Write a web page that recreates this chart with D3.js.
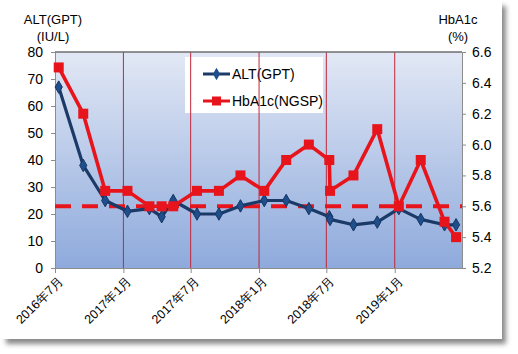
<!DOCTYPE html>
<html>
<head>
<meta charset="utf-8">
<script src="https://cdn.jsdelivr.net/npm/d3@7"></script>
<style>
  body { margin: 0; background: #ffffff; }
  svg { display: block; font-family: "Liberation Sans", Arial, "Noto Sans CJK JP", sans-serif; }
</style>
</head>
<body>
<svg id="drawing_region"></svg>
<script>
// measurement dates
const dates = ['2016-07-11','2016-09-15','2016-11-13','2017-01-12','2017-03-12','2017-04-14','2017-05-15',
    '2017-07-18','2017-09-15','2017-11-12','2018-01-15','2018-03-15','2018-05-15','2018-07-09','2018-07-11',
    '2018-09-12','2018-11-15','2019-01-12','2019-03-12','2019-05-15','2019-06-15'];
const alt = [67,38,25,21,22,19,25,20,20,23,25,25,22,19,18,16,17,22,18,16,16];
const hba1c = [6.5,6.2,5.7,5.7,5.6,5.6,5.6,5.7,5.7,5.8,5.7,5.9,6.0,5.9,5.7,5.8,6.1,5.6,5.9,5.5,5.4];
const hba1cTarget = 5.6;
const xTicks = ['2016-07-01','2017-01-01','2017-07-01','2018-01-01','2018-07-01','2019-01-01'];
const leftTicks = [0,10,20,30,40,50,60,70,80];
const rightTicks = [5.2,5.4,5.6,5.8,6.0,6.2,6.4,6.6];

const parse = d3.timeParse('%Y-%m-%d');
const data = dates.map((d, i) => ({date: parse(d), alt: alt[i], hba1c: hba1c[i]}));

const width = 518, height = 354;
const margin = {top: 52, right: 56, bottom: 86, left: 55};
const inner_width = width - margin.left - margin.right;
const inner_height = height - margin.top - margin.bottom;

const svg = d3.select('#drawing_region')
    .attr('width', width)
    .attr('height', height);

// panel + drop shadow
const defs = svg.append('defs');
defs.append('filter').attr('id', 'shadow')
    .attr('x', '-5%').attr('y', '-5%').attr('width', '115%').attr('height', '115%')
    .append('feGaussianBlur').attr('stdDeviation', 2.5);
const grad = defs.append('linearGradient').attr('id', 'plotbg')
    .attr('x1', 0).attr('y1', 0).attr('x2', 0).attr('y2', 1);
grad.append('stop').attr('offset', '0%').attr('stop-color', '#e2e8f5');
grad.append('stop').attr('offset', '100%').attr('stop-color', '#8eaadc');

svg.append('rect').attr('x', 6).attr('y', 6).attr('width', 500).attr('height', 338)
    .attr('fill', '#8a8a8a').attr('filter', 'url(#shadow)');
svg.append('rect').attr('x', 0).attr('y', 0).attr('width', 502).attr('height', 339)
    .attr('fill', '#ffffff');

const chart = svg.append('g')
    .attr('transform', `translate(${margin.left}, ${margin.top})`);

const xscale = d3.scaleTime()
    .domain([parse('2016-07-01'), parse('2019-07-01')])
    .range([0, inner_width]);
const yleft = d3.scaleLinear().domain([0, 80]).range([inner_height, 0]);
const yright = d3.scaleLinear().domain([5.2, 6.6]).range([inner_height, 0]);

chart.append('rect')
    .attr('width', inner_width).attr('height', inner_height)
    .attr('fill', 'url(#plotbg)');

// legend box (grid lines run over it)
const legend = chart.append('g').attr('transform', 'translate(130, 5)');
legend.append('rect').attr('width', 138).attr('height', 56).attr('fill', '#ffffff');

// vertical grid lines
chart.append('g').selectAll('line')
    .data(xTicks.slice(1).map(parse))
    .join('line')
    .attr('x1', d => xscale(d)).attr('x2', d => xscale(d))
    .attr('y1', 0).attr('y2', inner_height)
    .attr('stroke', '#c0283a').attr('stroke-width', 1);

// axes
const xaxis = d3.axisBottom(xscale)
    .tickValues(xTicks.map(parse))
    .tickFormat(d3.timeFormat('%Y年%-m月'))
    .tickSize(5).tickSizeOuter(0);
const xg = chart.append('g')
    .attr('transform', `translate(0, ${inner_height})`)
    .call(xaxis);
xg.selectAll('text')
    .attr('font-size', 12.5).attr('fill', '#000')
    .attr('text-anchor', 'end')
    .attr('dy', 0)
    .attr('transform', 'translate(3, 8) rotate(-45)');

const yaxisL = d3.axisLeft(yleft).tickValues(leftTicks).tickSize(4).tickSizeOuter(0).tickPadding(8);
const ylg = chart.append('g').call(yaxisL);
ylg.selectAll('text').attr('font-size', 14).attr('fill', '#000');

const yaxisR = d3.axisRight(yright).tickValues(rightTicks).tickFormat(d3.format('.1f'))
    .tickSize(4).tickSizeOuter(0).tickPadding(6);
const yrg = chart.append('g').attr('transform', `translate(${inner_width}, 0)`).call(yaxisR);
yrg.selectAll('text').attr('font-size', 14).attr('fill', '#000');

[xg, ylg, yrg].forEach(g => {
    g.selectAll('.domain').attr('stroke', '#8c8c8c');
    g.selectAll('.tick line').attr('stroke', '#8c8c8c');
});
chart.append('line').attr('x1', 0).attr('x2', inner_width).attr('y1', 0).attr('y2', 0)
    .attr('stroke', '#6e6e6e').attr('stroke-width', 1.5);

// HbA1c target dashed line
chart.append('line')
    .attr('x1', 0).attr('x2', inner_width)
    .attr('y1', yright(hba1cTarget)).attr('y2', yright(hba1cTarget))
    .attr('stroke', '#e8141c').attr('stroke-width', 4)
    .attr('stroke-dasharray', '16,11');

// ALT series
const altLine = d3.line().x(d => xscale(d.date)).y(d => yleft(d.alt));
chart.append('path').datum(data)
    .attr('d', altLine)
    .attr('fill', 'none').attr('stroke', '#1b3a68').attr('stroke-width', 3.2)
    .attr('stroke-linejoin', 'round');
const diamond = d3.symbol().type(d3.symbolDiamond).size(45);
chart.append('g').selectAll('path')
    .data(data)
    .join('path')
    .attr('d', diamond)
    .attr('transform', d => `translate(${xscale(d.date)}, ${yleft(d.alt)})`)
    .attr('fill', '#1f4e8c').attr('stroke', '#173560').attr('stroke-width', 1);

// HbA1c series
const hbLine = d3.line().x(d => xscale(d.date)).y(d => yright(d.hba1c));
chart.append('path').datum(data)
    .attr('d', hbLine)
    .attr('fill', 'none').attr('stroke', '#e8141c').attr('stroke-width', 3.6)
    .attr('stroke-linejoin', 'round');
chart.append('g').selectAll('rect')
    .data(data)
    .join('rect')
    .attr('x', d => xscale(d.date) - 5).attr('y', d => yright(d.hba1c) - 5)
    .attr('width', 10).attr('height', 10)
    .attr('fill', '#e8141c');

// legend entries
legend.append('line').attr('x1', 18).attr('x2', 45).attr('y1', 17).attr('y2', 17)
    .attr('stroke', '#1b3a68').attr('stroke-width', 3);
legend.append('path').attr('d', diamond).attr('transform', 'translate(31.5, 17)')
    .attr('fill', '#1f4e8c');
legend.append('text').attr('x', 47).attr('y', 22).attr('font-size', 14).text('ALT(GPT)');
legend.append('line').attr('x1', 18).attr('x2', 45).attr('y1', 44).attr('y2', 44)
    .attr('stroke', '#e8141c').attr('stroke-width', 3);
legend.append('rect').attr('x', 27).attr('y', 39.5).attr('width', 9).attr('height', 9)
    .attr('fill', '#e8141c');
legend.append('text').attr('x', 47).attr('y', 49).attr('font-size', 14).text('HbA1c(NGSP)');

// axis titles
svg.append('text').attr('x', 53).attr('y', 24).attr('text-anchor', 'middle')
    .attr('font-size', 13).text('ALT(GPT)');
svg.append('text').attr('x', 53).attr('y', 41).attr('text-anchor', 'middle')
    .attr('font-size', 13).text('(IU/L)');
svg.append('text').attr('x', 458).attr('y', 24).attr('text-anchor', 'middle')
    .attr('font-size', 13).text('HbA1c');
svg.append('text').attr('x', 458).attr('y', 41).attr('text-anchor', 'middle')
    .attr('font-size', 13).text('(%)');
</script>
</body>
</html>
